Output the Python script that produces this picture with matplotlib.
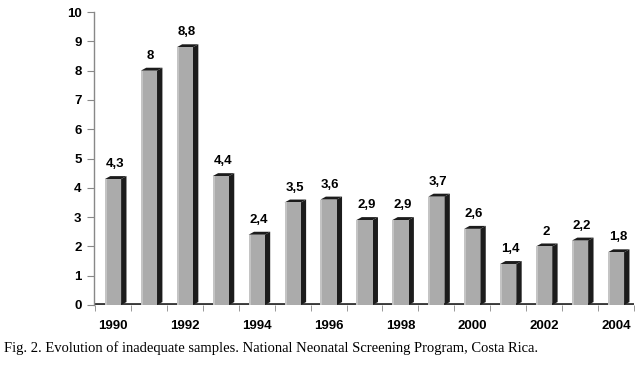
import matplotlib.pyplot as plt
from matplotlib.patches import Polygon, Rectangle
import numpy as np

years = list(range(1990, 2005))
values = [4.3, 8, 8.8, 4.4, 2.4, 3.5, 3.6, 2.9, 2.9, 3.7, 2.6, 1.4, 2, 2.2, 1.8]
labels = ['4,3', '8', '8,8', '4,4', '2,4', '3,5', '3,6', '2,9', '2,9', '3,7', '2,6', '1,4', '2', '2,2', '1,8']
tick_years = [1990, 1992, 1994, 1996, 1998, 2000, 2002, 2004]

plt.rcParams['font.family'] = ['Liberation Sans', 'DejaVu Sans']

fig = plt.figure(figsize=(6.41, 3.66), dpi=100)
ax = fig.add_axes([0.1466, 0.1667, 0.8424, 0.8003])

x = np.arange(len(years))
w = 0.45      # front face width
d = 0.15      # depth (side) width
dy = 0.1      # depth vertical offset

# floor line
ax.axhline(0, color='#3a3a3a', lw=3.5, zorder=1)

for xi, v, lab in zip(x, values, labels):
    x0 = xi - w / 2
    side = Polygon([(x0 + w, 0), (x0 + w + d, dy), (x0 + w + d, v + dy), (x0 + w, v)],
                   closed=True, facecolor='#1c1c1c', edgecolor='none', zorder=2)
    top = Polygon([(x0, v), (x0 + d, v + dy), (x0 + w + d, v + dy), (x0 + w, v)],
                  closed=True, facecolor='#1c1c1c', edgecolor='none', zorder=2)
    front = Rectangle((x0, 0), w, v, facecolor='#ababab', edgecolor='none', zorder=3)
    hl = Rectangle((x0, 0), w * 0.12, v, facecolor='#c4c4c4', edgecolor='none', zorder=3)
    ax.add_patch(side)
    ax.add_patch(top)
    ax.add_patch(front)
    ax.add_patch(hl)
    ax.text(xi + 0.05, v + 0.3, lab, ha='center', va='bottom', fontsize=9.5, fontweight='bold')

ax.set_xlim(-0.53, 14.5)
ax.set_ylim(0, 10)
ax.set_yticks(range(0, 11))
ax.set_yticklabels([str(i) for i in range(0, 11)], fontsize=9.5, fontweight='bold')

ax.set_xticks([y - 1990 for y in tick_years])
ax.set_xticklabels([str(y) for y in tick_years], fontsize=9.5, fontweight='bold')
ax.tick_params(axis='x', length=0, pad=11)
ax.set_xticks(np.arange(-0.5, 14.6, 1), minor=True)
ax.tick_params(axis='x', which='minor', length=4, color='#888888', direction='out')
ax.tick_params(axis='y', length=5, color='#888888', direction='out', pad=4)

for s in ['top', 'right', 'bottom']:
    ax.spines[s].set_visible(False)
ax.spines['left'].set_color('#888888')
ax.spines['left'].set_linewidth(1)

fig.text(0.006, 0.05, 'Fig. 2. Evolution of inadequate samples. National Neonatal Screening Program, Costa Rica.',
         family=['Liberation Serif', 'DejaVu Serif'], fontsize=10.5, va='center', ha='left')

fig.savefig('out.png', dpi=100)
